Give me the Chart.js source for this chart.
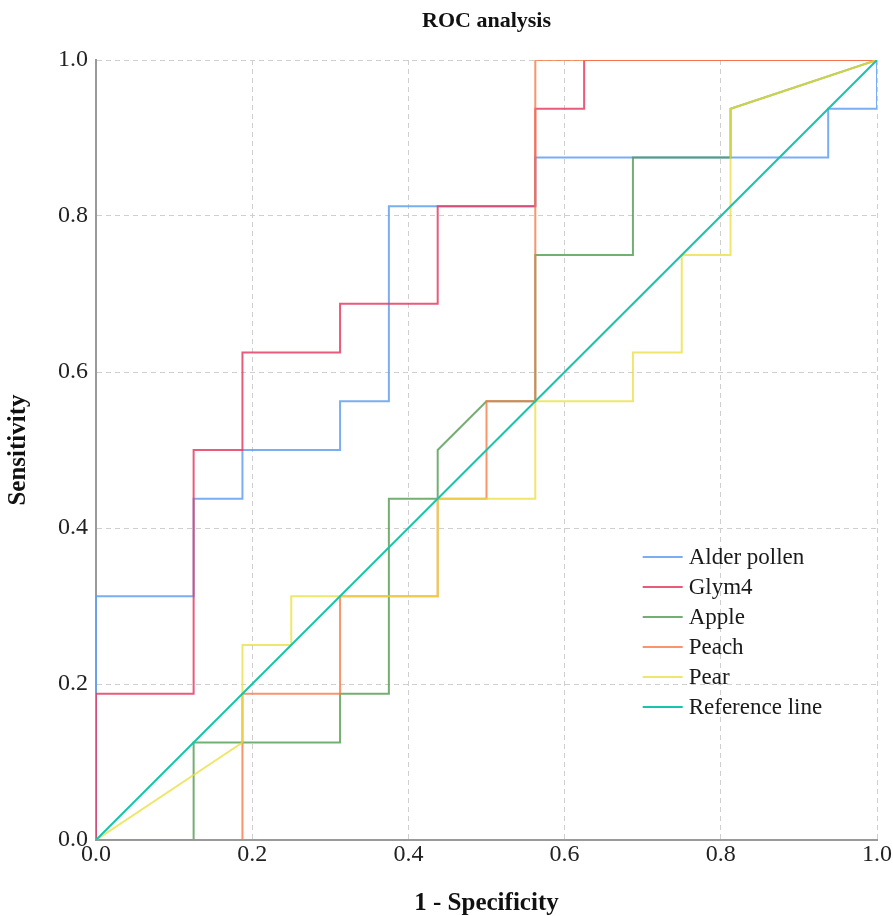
<!DOCTYPE html>
<html>
<head>
<meta charset="utf-8">
<script src="https://cdn.jsdelivr.net/npm/chart.js@4/dist/chart.umd.min.js"></script>
<style>
  html, body { margin: 0; padding: 0; background: #fff; }
  #wrap { width: 893px; height: 916px; }
</style>
</head>
<body>
<div id="wrap"><canvas id="rocChart" width="893" height="916"></canvas></div>
<script>
// ROC curves: 1 - specificity (x) and sensitivity (y)
const alderX = [0, 0, 0.125, 0.125, 0.1875, 0.1875, 0.3125, 0.3125, 0.375, 0.375, 0.5625, 0.5625, 0.9375, 0.9375, 1, 1];
const alderY = [0, 0.3125, 0.3125, 0.4375, 0.4375, 0.5, 0.5, 0.5625, 0.5625, 0.8125, 0.8125, 0.875, 0.875, 0.9375, 0.9375, 1];

const glymX = [0, 0, 0.125, 0.125, 0.1875, 0.1875, 0.3125, 0.3125, 0.4375, 0.4375, 0.5625, 0.5625, 0.625, 0.625, 1];
const glymY = [0, 0.1875, 0.1875, 0.5, 0.5, 0.625, 0.625, 0.6875, 0.6875, 0.8125, 0.8125, 0.9375, 0.9375, 1, 1];

const appleX = [0, 0.125, 0.125, 0.3125, 0.3125, 0.375, 0.375, 0.4375, 0.4375, 0.5, 0.5625, 0.5625, 0.6875, 0.6875, 0.8125, 0.8125, 1];
const appleY = [0, 0, 0.125, 0.125, 0.1875, 0.1875, 0.4375, 0.4375, 0.5, 0.5625, 0.5625, 0.75, 0.75, 0.875, 0.875, 0.9375, 1];

const peachX = [0, 0.1875, 0.1875, 0.3125, 0.3125, 0.4375, 0.4375, 0.5, 0.5, 0.5625, 0.5625, 1];
const peachY = [0, 0, 0.1875, 0.1875, 0.3125, 0.3125, 0.4375, 0.4375, 0.5625, 0.5625, 1, 1];

const pearX = [0, 0.1875, 0.1875, 0.25, 0.25, 0.4375, 0.4375, 0.5625, 0.5625, 0.6875, 0.6875, 0.75, 0.75, 0.8125, 0.8125, 1];
const pearY = [0, 0.125, 0.25, 0.25, 0.3125, 0.3125, 0.4375, 0.4375, 0.5625, 0.5625, 0.625, 0.625, 0.75, 0.75, 0.9375, 1];

const refX = [0, 1];
const refY = [0, 1];

const seriesNames = ['Alder pollen', 'Glym4', 'Apple', 'Peach', 'Pear', 'Reference line'];
const tickValues = [0, 0.2, 0.4, 0.6, 0.8, 1.0];

const colors = ['rgba(98,160,240,0.85)', 'rgba(228,62,100,0.85)', 'rgba(80,155,80,0.8)',
                'rgba(246,122,70,0.8)', 'rgba(234,222,60,0.75)', 'rgba(24,196,172,1)'];

function pts(xs, ys) {
    return xs.map((x, i) => ({x: x, y: ys[i]}));
}

const allX = [alderX, glymX, appleX, peachX, pearX, refX];
const allY = [alderY, glymY, appleY, peachY, pearY, refY];

// first dataset is painted last: reference on top, then pear, peach...
const order = [5, 4, 3, 2, 1, 0];
const datasets = order.map(i => ({
    label: seriesNames[i],
    data: pts(allX[i], allY[i]),
    borderColor: colors[i],
    backgroundColor: colors[i],
    borderWidth: 2,
    pointRadius: 0,
    tension: 0,
    fill: false
}));

const serif = '"Liberation Serif", "Times New Roman", serif';

// title centred over the plot, legend inside the plot, like the original
const extras = {
    id: 'extras',
    afterDraw(chart) {
        const {ctx, chartArea} = chart;
        const w = chartArea.right - chartArea.left;
        ctx.save();
        ctx.fillStyle = '#111';
        ctx.font = 'bold 22px ' + serif;
        ctx.textAlign = 'center';
        ctx.textBaseline = 'middle';
        ctx.fillText('ROC analysis', (chartArea.left + chartArea.right) / 2, 21);

        const x0 = chartArea.left + 0.7 * w;
        const y0 = 557;
        ctx.font = '23px ' + serif;
        ctx.textAlign = 'left';
        seriesNames.forEach((name, i) => {
            const y = y0 + i * 30;
            ctx.strokeStyle = colors[i];
            ctx.lineWidth = 2;
            ctx.beginPath();
            ctx.moveTo(x0, y);
            ctx.lineTo(x0 + 40, y);
            ctx.stroke();
            ctx.fillStyle = '#1a1a1a';
            ctx.fillText(name, x0 + 46, y + 1);
        });
        ctx.restore();
    }
};

const ctx = document.getElementById('rocChart').getContext('2d');
new Chart(ctx, {
    type: 'line',
    data: { datasets: datasets },
    plugins: [extras],
    options: {
        responsive: false,
        animation: false,
        layout: { padding: { left: 0, right: 16, top: 60, bottom: 0 } },
        plugins: {
            legend: { display: false },
            tooltip: { enabled: false },
            title: { display: false }
        },
        scales: {
            x: {
                type: 'linear',
                min: 0,
                max: 1,
                afterFit(scale) { scale.height = 76; },
                afterBuildTicks(scale) { scale.ticks = tickValues.map(v => ({value: v})); },
                ticks: {
                    color: '#222',
                    font: { family: serif, size: 24 },
                    padding: 0,
                    callback: v => v.toFixed(1)
                },
                grid: { color: '#cfcfcf', lineWidth: 1, drawTicks: false },
                border: { display: true, color: '#9a9a9a', width: 2, dash: [5, 4] },
                title: {
                    display: true,
                    text: '1 - Specificity',
                    color: '#111',
                    font: { family: serif, size: 25, weight: 'bold', lineHeight: 1.0 },
                    padding: { top: 0, bottom: 0 }
                }
            },
            y: {
                type: 'linear',
                min: 0,
                max: 1,
                afterFit(scale) { scale.width = 96; },
                afterBuildTicks(scale) { scale.ticks = tickValues.map(v => ({value: v})); },
                ticks: {
                    color: '#222',
                    font: { family: serif, size: 24 },
                    padding: 8,
                    callback: v => v.toFixed(1)
                },
                grid: { color: '#cfcfcf', lineWidth: 1, drawTicks: false },
                border: { display: true, color: '#9a9a9a', width: 2, dash: [5, 4] },
                title: {
                    display: true,
                    text: 'Sensitivity',
                    color: '#111',
                    font: { family: serif, size: 25, weight: 'bold' },
                    padding: { top: 4, bottom: 0 }
                }
            }
        }
    }
});
</script>
</body>
</html>
